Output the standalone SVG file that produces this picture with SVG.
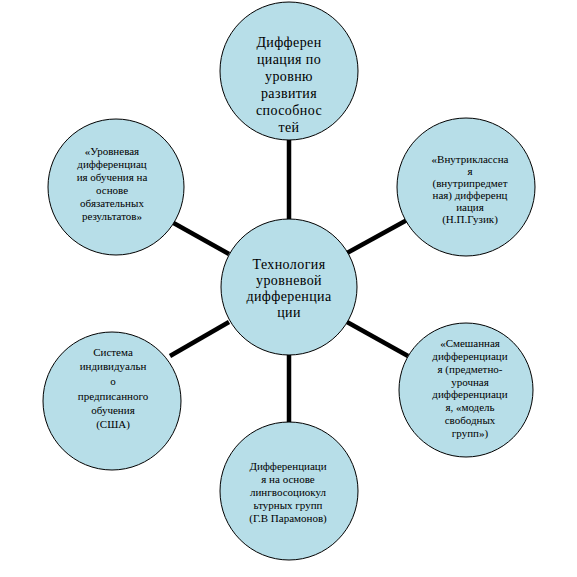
<svg xmlns="http://www.w3.org/2000/svg" width="577" height="577" viewBox="0 0 577 577">
<style>
.node circle{fill:#b7dee8;stroke:#000;stroke-width:1}
.node text{font-family:"Liberation Serif",Tinos,"Times New Roman","Noto Serif","DejaVu Serif",serif;fill:#000;text-anchor:middle}
.big text{font-size:14px;letter-spacing:0.4px}
.small text{font-size:11px}
.conn line{stroke:#000;stroke-width:4.5}
</style>
<rect width="577" height="577" fill="#fff"/>
<g id="connectors" class="conn">
<line x1="289" y1="139" x2="289" y2="220"/>
<line x1="170" y1="221" x2="229" y2="254"/>
<line x1="347" y1="253" x2="407" y2="220"/>
<line x1="170" y1="356" x2="229" y2="322"/>
<line x1="347" y1="322" x2="408" y2="356"/>
<line x1="289" y1="354" x2="289" y2="424"/>
</g>
<g id="n-top" class="node big">
<circle cx="289" cy="71" r="69"/>
<text x="289" y="47">Дифферен</text>
<text x="289" y="64">циация по</text>
<text x="289" y="81">уровню</text>
<text x="289" y="98">развития</text>
<text x="289" y="115">способнос</text>
<text x="289" y="132">тей</text>
</g>
<g id="n-center" class="node big">
<circle cx="289" cy="287" r="68"/>
<text x="289" y="269">Технология</text>
<text x="289" y="285">уровневой</text>
<text x="289" y="301">дифференциа</text>
<text x="289" y="317">ции</text>
</g>
<g id="n-topleft" class="node small">
<circle cx="116" cy="187" r="68"/>
<text x="112" y="155">«Уровневая</text>
<text x="112" y="168">дифференциац</text>
<text x="112" y="181">ия обучения на</text>
<text x="112" y="194">основе</text>
<text x="112" y="207">обязательных</text>
<text x="112" y="220">результатов»</text>
</g>
<g id="n-topright" class="node small">
<circle cx="466" cy="187" r="69"/>
<text x="470" y="163">«Внутриклассна</text>
<text x="470" y="175">я</text>
<text x="470" y="187">(внутрипредмет</text>
<text x="470" y="199">ная) дифференц</text>
<text x="470" y="211">иация</text>
<text x="470" y="223">(Н.П.Гузик)</text>
</g>
<g id="n-bottomleft" class="node small">
<circle cx="112" cy="401" r="69"/>
<text x="113" y="356">Система</text>
<text x="113" y="370">индивидуальн</text>
<text x="113" y="385">о</text>
<text x="113" y="400">предписанного</text>
<text x="113" y="414">обучения</text>
<text x="113" y="428">(США)</text>
</g>
<g id="n-bottomright" class="node small">
<circle cx="466" cy="390" r="67"/>
<text x="470" y="347">«Смешанная</text>
<text x="470" y="360">дифференциаци</text>
<text x="470" y="373">я (предметно-</text>
<text x="470" y="386">урочная</text>
<text x="470" y="398">дифференциаци</text>
<text x="470" y="411">я, «модель</text>
<text x="470" y="424">свободных</text>
<text x="470" y="437">групп»)</text>
</g>
<g id="n-bottom" class="node small">
<circle cx="289" cy="491" r="69"/>
<text x="288" y="470">Дифференциаци</text>
<text x="288" y="483">я  на основе</text>
<text x="288" y="496">лингвосоциокул</text>
<text x="288" y="509">ьтурных групп</text>
<text x="288" y="522">(Г.В Парамонов)</text>
</g>
</svg>
